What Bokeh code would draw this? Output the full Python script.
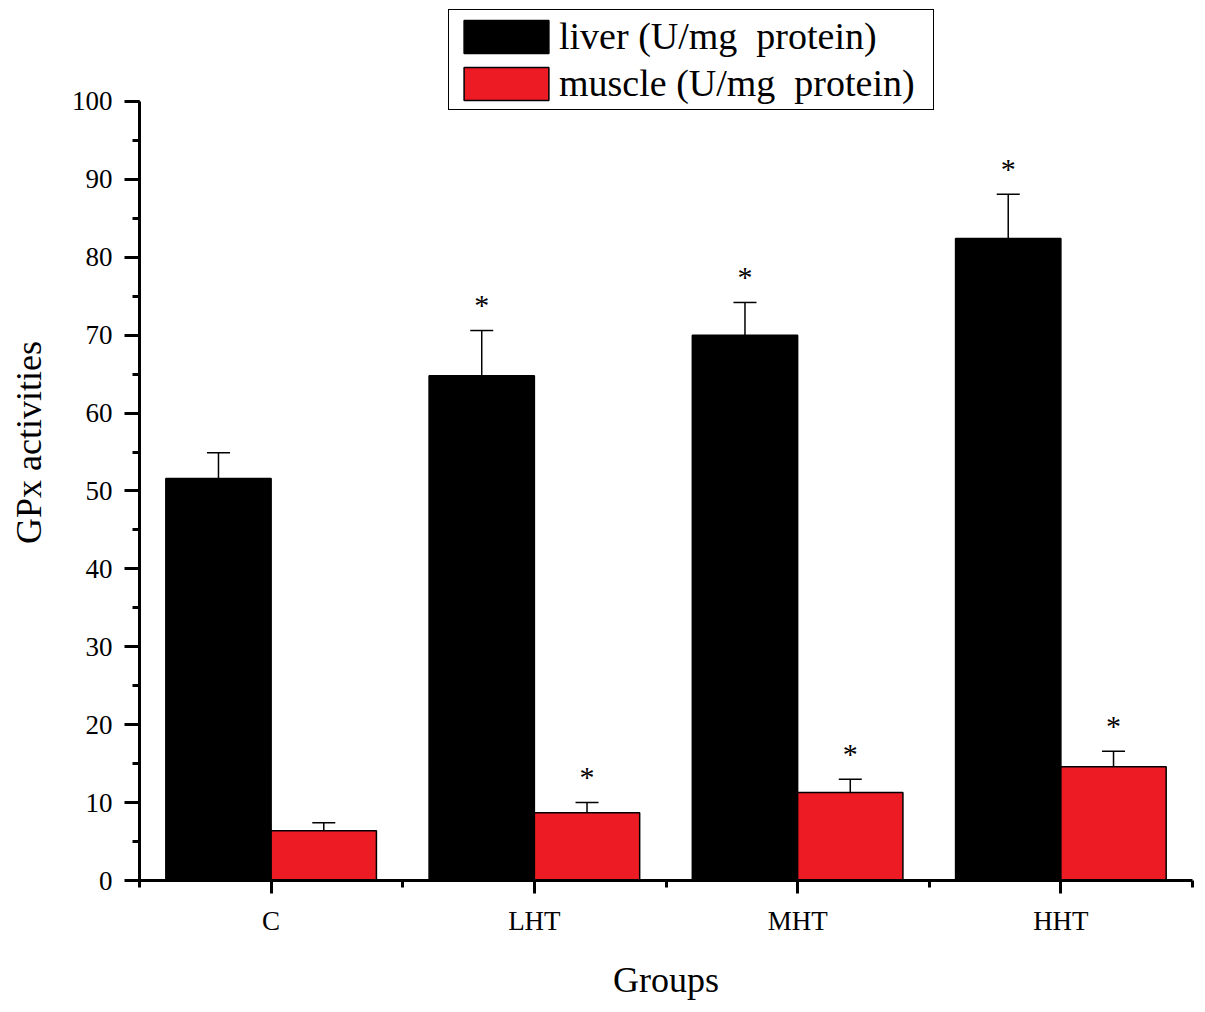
from bokeh.plotting import figure
from bokeh.models import (Range1d, FixedTicker, Legend, LegendItem, Whisker,
                          TeeHead, ColumnDataSource)
from bokeh.embed import file_html
from bokeh.resources import INLINE
from bokeh.core.properties import value

# data
groups = ["C", "LHT", "MHT", "HHT"]
liver = [51.6, 64.8, 70.0, 82.4]
liver_err = [3.3, 5.8, 4.2, 5.7]
muscle = [6.4, 8.7, 11.3, 14.6]
muscle_err = [1.0, 1.3, 1.7, 2.0]
liver_sig = [False, True, True, True]
muscle_sig = [False, True, True, True]

serif = "Liberation Serif"
red = "#ED1C24"

xpos = list(range(1, len(groups) + 1))
liver_x = [x - 0.2 for x in xpos]
muscle_x = [x + 0.2 for x in xpos]

# the frame runs up past the top of the legend; the y axis itself stops at 100
p = figure(width=1197, height=1004, output_backend="svg", toolbar_location=None,
           x_range=Range1d(0.5, 4.5), y_range=Range1d(0, 112.45),
           min_border_left=139, min_border_right=5, min_border_top=4,
           min_border_bottom=124)
p.outline_line_color = None
p.grid.visible = False

# bars
r_liver = p.vbar(x=liver_x, top=liver, width=0.4, bottom=0,
                 fill_color="black", line_color="black", line_width=1.5)
r_muscle = p.vbar(x=muscle_x, top=muscle, width=0.4, bottom=0,
                  fill_color=red, line_color="black", line_width=1.5)

# upper error bars
for xs, vals, errs in [(liver_x, liver, liver_err), (muscle_x, muscle, muscle_err)]:
    src = ColumnDataSource(dict(x=xs, lo=vals, hi=[v + e for v, e in zip(vals, errs)]))
    w = Whisker(source=src, base="x", lower="lo", upper="hi",
                lower_head=None,
                upper_head=TeeHead(size=23, line_width=1.5, line_color="black"),
                line_width=1.5, line_color="black")
    p.add_layout(w)

# significance stars
for xs, vals, errs, sig in [(liver_x, liver, liver_err, liver_sig),
                            (muscle_x, muscle, muscle_err, muscle_sig)]:
    sx = [x for x, s in zip(xs, sig) if s]
    sy = [v + e for v, e, s in zip(vals, errs, sig) if s]
    p.text(x=sx, y=sy, text=["*"] * len(sx), text_align="center",
           text_baseline="alphabetic", y_offset=-26,
           text_font=value(serif), text_font_size="30px", text_color="black")

# axes
p.xaxis.ticker = FixedTicker(ticks=xpos, minor_ticks=[0.5, 1.5, 2.5, 3.5, 4.5])
p.xaxis.major_label_overrides = {x: g for x, g in zip(xpos, groups)}
p.yaxis.ticker = FixedTicker(ticks=list(range(0, 101, 10)),
                             minor_ticks=list(range(0, 101, 5)))
p.yaxis.bounds = (0, 100)
p.xaxis.axis_label = "Groups"
p.yaxis.axis_label = "GPx activities"

for ax in [p.xaxis[0], p.yaxis[0]]:
    ax.axis_line_width = 3
    ax.axis_line_color = "black"
    ax.major_tick_line_width = 3
    ax.minor_tick_line_width = 3
    ax.major_tick_line_color = "black"
    ax.minor_tick_line_color = "black"
    ax.major_tick_in = 0
    ax.minor_tick_in = 0
    ax.major_label_text_font = serif
    ax.major_label_text_font_size = "27px"
    ax.major_label_text_color = "black"
    ax.axis_label_text_font = serif
    ax.axis_label_text_font_size = "36px"
    ax.axis_label_text_font_style = "normal"
    ax.axis_label_text_color = "black"

p.yaxis.major_tick_out = 15
p.yaxis.minor_tick_out = 7
p.yaxis.major_label_standoff = 12
p.yaxis.axis_label_standoff = 20
p.xaxis.major_tick_out = 13
p.xaxis.minor_tick_out = 7
p.xaxis.major_label_standoff = 12
p.xaxis.axis_label_standoff = 21

# legend at the top of the frame (bar swatches are drawn 10% inset)
legend = Legend(items=[LegendItem(label="liver (U/mg  protein)", renderers=[r_liver]),
                       LegendItem(label="muscle (U/mg  protein)", renderers=[r_muscle])],
                location=(309, 770), orientation="vertical",
                glyph_width=106, glyph_height=41, spacing=3, padding=4, margin=0,
                label_standoff=0, label_text_font=serif, label_text_font_size="38px",
                label_text_color="black", label_width=370,
                border_line_color="black", border_line_width=1.5,
                border_line_alpha=1, background_fill_alpha=1)
p.add_layout(legend, "center")

open("out.html", "w").write(file_html(p, INLINE))
